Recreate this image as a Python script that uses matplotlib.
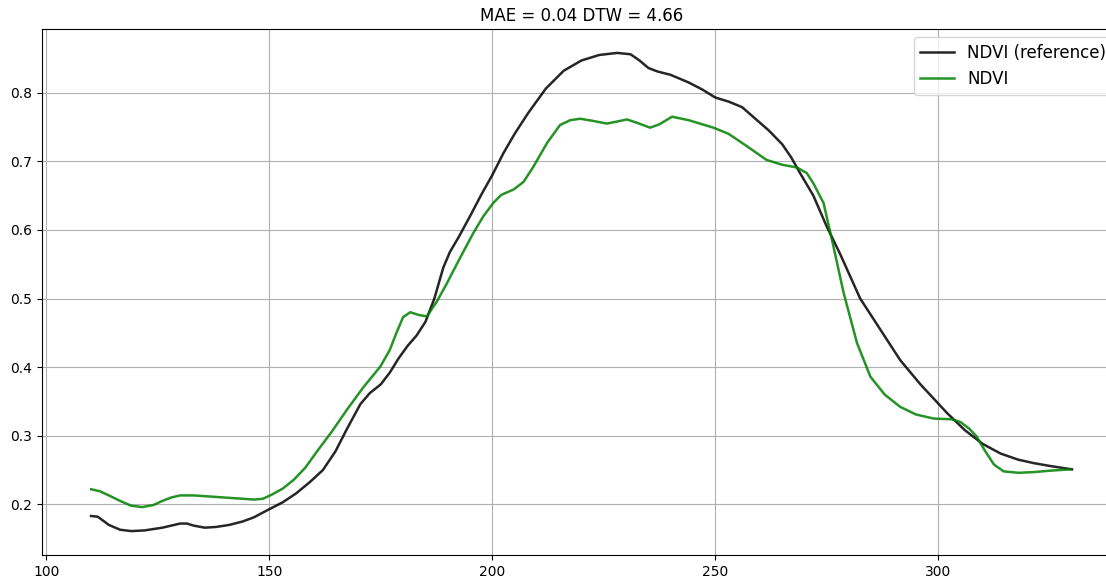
import numpy as np
import matplotlib
matplotlib.use('Agg')
import matplotlib.pyplot as plt

# Reference NDVI curve (day of year, value)
ref_day = [110, 111.5, 114, 116.5, 119, 122, 126, 130, 131.5, 133, 135.5, 138, 141,
           144, 146.5, 150, 153, 156, 159, 162, 164.8, 167.4, 170.4, 172.5, 175, 177,
           179, 181, 183, 185, 187, 189, 190.5, 192.5, 195, 197.5, 200, 202.5, 205,
           208, 212, 216, 220, 224, 228, 231, 233, 235, 237, 240, 244, 247, 250, 253,
           256, 259, 262, 265, 267, 269, 272, 275, 278, 282.5, 286, 291.5, 296, 302,
           306, 310, 314, 318, 321.5, 325, 330]
ref_ndvi = [0.183, 0.182, 0.170, 0.163, 0.161, 0.162, 0.166, 0.172, 0.172, 0.169, 0.166,
            0.167, 0.170, 0.175, 0.181, 0.193, 0.203, 0.216, 0.232, 0.250, 0.277, 0.310,
            0.346, 0.362, 0.375, 0.392, 0.413, 0.431, 0.446, 0.466, 0.500, 0.545, 0.568,
            0.590, 0.620, 0.651, 0.680, 0.712, 0.740, 0.770, 0.806, 0.832, 0.847, 0.855,
            0.858, 0.856, 0.847, 0.836, 0.831, 0.826, 0.815, 0.805, 0.793, 0.787, 0.779,
            0.762, 0.745, 0.725, 0.706, 0.683, 0.650, 0.605, 0.565, 0.500, 0.465, 0.410,
            0.375, 0.333, 0.308, 0.288, 0.274, 0.265, 0.260, 0.256, 0.251]

# Predicted NDVI curve
pred_day = [110, 112, 114, 116.5, 119, 121.5, 124, 126, 128, 130, 133, 137.5, 142, 146.5,
            148.5, 150.5, 153, 155.5, 158, 161, 164, 167.4, 171, 174.9, 177, 178.5, 180,
            181.6, 183.5, 185.3, 187.5, 189.8, 192.5, 195.7, 198, 200.3, 202, 204.8, 207,
            209.2, 212.3, 215.2, 217.5, 219.7, 222.5, 225.7, 228, 230.2, 232.5, 235.4,
            237.5, 240.3, 244, 249.6, 253, 257.1, 261.5, 265, 268.3, 270.5, 272, 274.3,
            276.5, 278.8, 281.8, 284.8, 288, 291.5, 295, 299, 303, 305, 307, 308.6, 310.5,
            312.5, 314.7, 318, 321.4, 325, 329.6]
pred_ndvi = [0.222, 0.219, 0.213, 0.205, 0.198, 0.196, 0.199, 0.205, 0.210, 0.213, 0.213,
             0.211, 0.209, 0.207, 0.208, 0.214, 0.223, 0.236, 0.253, 0.280, 0.306, 0.338,
             0.370, 0.401, 0.425, 0.450, 0.473, 0.480, 0.476, 0.474, 0.495, 0.522, 0.556,
             0.595, 0.620, 0.640, 0.651, 0.659, 0.670, 0.692, 0.727, 0.753, 0.760, 0.762,
             0.759, 0.755, 0.758, 0.761, 0.756, 0.749, 0.754, 0.765, 0.760, 0.749, 0.740,
             0.722, 0.702, 0.695, 0.691, 0.683, 0.668, 0.639, 0.576, 0.508, 0.435, 0.386,
             0.360, 0.342, 0.331, 0.325, 0.324, 0.320, 0.310, 0.299, 0.278, 0.258, 0.248,
             0.246, 0.247, 0.249, 0.251]

mae = 0.04
dtw = 4.66

fig = plt.figure(figsize=(11.06, 5.8), dpi=100)
# axes run a little past the right edge, like the clipped original
ax = fig.add_axes([42/1106, 25/580, 1079/1106, 526/580])

ax.plot(ref_day, ref_ndvi, color='k', alpha=0.85, lw=1.8, label='NDVI (reference)')
ax.plot(pred_day, pred_ndvi, color='green', alpha=0.85, lw=1.8, label='NDVI')
ax.grid(True)
ax.set_title('MAE = %.2f DTW = %.2f' % (mae, dtw), fontsize=12)
ax.legend(loc='upper right', fontsize=12)

fig.savefig('out.png', dpi=100)
